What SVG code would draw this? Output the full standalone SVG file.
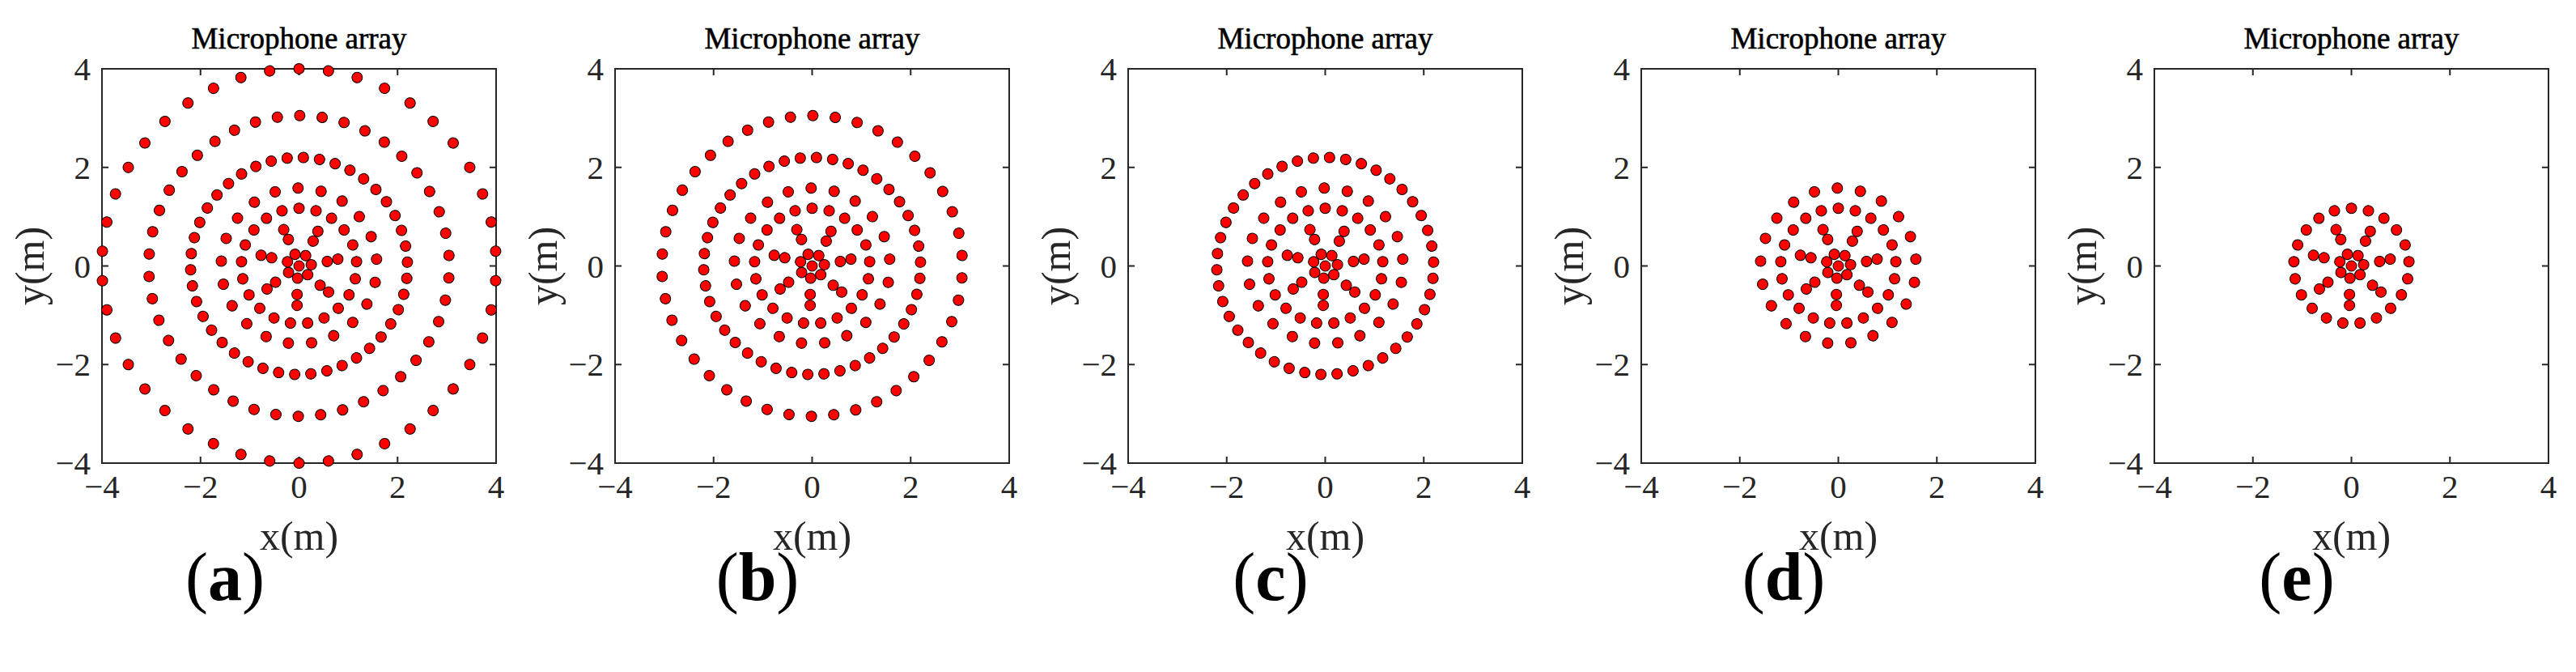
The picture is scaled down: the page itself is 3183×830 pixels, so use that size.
<svg xmlns="http://www.w3.org/2000/svg" xmlns:xlink="http://www.w3.org/1999/xlink" width="3183" height="830" viewBox="0 0 3183 830">
<style>
.d{fill:#f00;stroke:#000;stroke-width:1}
.box{fill:none;stroke:#262626;stroke-width:2}
.tk{stroke:#262626;stroke-width:2}
text{font-family:"Liberation Serif","Times New Roman",serif;fill:#262626}
.t{font-size:37px;text-anchor:middle;fill:#000;stroke:#000;stroke-width:0.6}
.n{font-size:41px}
.ny{text-anchor:end}
.nx{text-anchor:middle}
.al{font-size:50px;text-anchor:middle}
.lab{font-size:84px;text-anchor:middle;fill:#000}
</style>
<defs>
<g id="s7"><circle class="d" cx="15.2" cy="0" r="6.5" transform="rotate(-6)"/></g>
<g id="sp"><circle class="d" cx="35.3" cy="0" r="6.5" transform="rotate(-9)"/><circle class="d" cx="48.7" cy="0" r="6.5" transform="rotate(-10)"/></g>
<g id="s21a"><circle class="d" cx="71.3" cy="0" r="6.5" transform="rotate(-4.3)"/><circle class="d" cx="71.3" cy="0" r="6.5" transform="rotate(-21.44)"/><circle class="d" cx="71.3" cy="0" r="6.5" transform="rotate(-38.58)"/></g>
<g id="s21b"><circle class="d" cx="96.2" cy="0" r="6.5" transform="rotate(-5)"/><circle class="d" cx="96.2" cy="0" r="6.5" transform="rotate(-22.14)"/><circle class="d" cx="96.2" cy="0" r="6.5" transform="rotate(-39.29)"/></g>
<g id="s42a"><circle class="d" cx="134" cy="0" r="6.5" transform="rotate(-2)"/><circle class="d" cx="134" cy="0" r="6.5" transform="rotate(-10.57)"/><circle class="d" cx="134" cy="0" r="6.5" transform="rotate(-19.14)"/><circle class="d" cx="134" cy="0" r="6.5" transform="rotate(-27.71)"/><circle class="d" cx="134" cy="0" r="6.5" transform="rotate(-36.29)"/><circle class="d" cx="134" cy="0" r="6.5" transform="rotate(-44.86)"/></g>
<g id="s42b"><circle class="d" cx="185.7" cy="0" r="6.5" transform="rotate(-4)"/><circle class="d" cx="185.7" cy="0" r="6.5" transform="rotate(-12.57)"/><circle class="d" cx="185.7" cy="0" r="6.5" transform="rotate(-21.14)"/><circle class="d" cx="185.7" cy="0" r="6.5" transform="rotate(-29.71)"/><circle class="d" cx="185.7" cy="0" r="6.5" transform="rotate(-38.29)"/><circle class="d" cx="185.7" cy="0" r="6.5" transform="rotate(-46.86)"/></g>
<g id="s42c"><circle class="d" cx="243.6" cy="0" r="6.5" transform="rotate(-4.29)"/><circle class="d" cx="243.6" cy="0" r="6.5" transform="rotate(-12.86)"/><circle class="d" cx="243.6" cy="0" r="6.5" transform="rotate(-21.43)"/><circle class="d" cx="243.6" cy="0" r="6.5" transform="rotate(-30)"/><circle class="d" cx="243.6" cy="0" r="6.5" transform="rotate(-38.57)"/><circle class="d" cx="243.6" cy="0" r="6.5" transform="rotate(-47.14)"/></g>
<g id="R7"><circle class="d" cx="0" cy="0" r="6.5"/><use href="#s7"/><use href="#s7" transform="rotate(51.4286)"/><use href="#s7" transform="rotate(102.857)"/><use href="#s7" transform="rotate(154.286)"/><use href="#s7" transform="rotate(205.714)"/><use href="#s7" transform="rotate(257.143)"/><use href="#s7" transform="rotate(308.571)"/></g>
<g id="RP"><use href="#sp"/><use href="#sp" transform="rotate(51.4286)"/><use href="#sp" transform="rotate(102.857)"/><use href="#sp" transform="rotate(154.286)"/><use href="#sp" transform="rotate(205.714)"/><use href="#sp" transform="rotate(257.143)"/><use href="#sp" transform="rotate(308.571)"/></g>
<g id="RA"><use href="#s21a"/><use href="#s21a" transform="rotate(51.4286)"/><use href="#s21a" transform="rotate(102.857)"/><use href="#s21a" transform="rotate(154.286)"/><use href="#s21a" transform="rotate(205.714)"/><use href="#s21a" transform="rotate(257.143)"/><use href="#s21a" transform="rotate(308.571)"/></g>
<g id="RB"><use href="#s21b"/><use href="#s21b" transform="rotate(51.4286)"/><use href="#s21b" transform="rotate(102.857)"/><use href="#s21b" transform="rotate(154.286)"/><use href="#s21b" transform="rotate(205.714)"/><use href="#s21b" transform="rotate(257.143)"/><use href="#s21b" transform="rotate(308.571)"/></g>
<g id="RC"><use href="#s42a"/><use href="#s42a" transform="rotate(51.4286)"/><use href="#s42a" transform="rotate(102.857)"/><use href="#s42a" transform="rotate(154.286)"/><use href="#s42a" transform="rotate(205.714)"/><use href="#s42a" transform="rotate(257.143)"/><use href="#s42a" transform="rotate(308.571)"/></g>
<g id="RD"><use href="#s42b"/><use href="#s42b" transform="rotate(51.4286)"/><use href="#s42b" transform="rotate(102.857)"/><use href="#s42b" transform="rotate(154.286)"/><use href="#s42b" transform="rotate(205.714)"/><use href="#s42b" transform="rotate(257.143)"/><use href="#s42b" transform="rotate(308.571)"/></g>
<g id="RE"><use href="#s42c"/><use href="#s42c" transform="rotate(51.4286)"/><use href="#s42c" transform="rotate(102.857)"/><use href="#s42c" transform="rotate(154.286)"/><use href="#s42c" transform="rotate(205.714)"/><use href="#s42c" transform="rotate(257.143)"/><use href="#s42c" transform="rotate(308.571)"/></g>
<g id="axes">
<rect class="box" x="0" y="0" width="487" height="487"/>
<path class="tk" d="M0,487v-8M121.75,487v-8M243.5,487v-8M365.25,487v-8M487,487v-8M0,0v8M121.75,0v8M243.5,0v8M365.25,0v8M487,0v8M0,0h8M0,121.75h8M0,243.5h8M0,365.25h8M0,487h8M487,0h-8M487,121.75h-8M487,243.5h-8M487,365.25h-8M487,487h-8"/>
<text class="n ny" x="-14" y="14">4</text>
<text class="n ny" x="-14" y="135.75">2</text>
<text class="n ny" x="-14" y="257.5">0</text>
<text class="n ny" x="-14" y="379.25">−2</text>
<text class="n ny" x="-14" y="501">−4</text>
<text class="n nx" x="0" y="530">−4</text>
<text class="n nx" x="121.75" y="530">−2</text>
<text class="n nx" x="243.5" y="530">0</text>
<text class="n nx" x="365.25" y="530">2</text>
<text class="n nx" x="487" y="530">4</text>
<text class="t" x="243.5" y="-25">Microphone array</text>
<text class="al" x="243.5" y="594">x(m)</text>
<text class="al" transform="translate(-72,243.5) rotate(-90)">y(m)</text>
</g>
</defs>
<rect width="3183" height="830" fill="#fff"/>
<g id="panel-a" transform="translate(126,85)">
<use href="#axes"/>
<g transform="translate(243.5,243.5)"><use href="#R7"/><use href="#RP"/><use href="#RA"/><use href="#RB"/><use href="#RC"/><use href="#RD"/><use href="#RE"/></g>
<text class="lab" x="152" y="656">(<tspan font-weight="bold">a</tspan>)</text>
</g>
<g id="panel-b" transform="translate(760,85)">
<use href="#axes"/>
<g transform="translate(243.5,243.5)"><use href="#R7"/><use href="#RP"/><use href="#RA"/><use href="#RB"/><use href="#RC"/><use href="#RD"/></g>
<text class="lab" x="176" y="656">(<tspan font-weight="bold">b</tspan>)</text>
</g>
<g id="panel-c" transform="translate(1394,85)">
<use href="#axes"/>
<g transform="translate(243.5,243.5)"><use href="#R7"/><use href="#RP"/><use href="#RA"/><use href="#RB"/><use href="#RC"/></g>
<text class="lab" x="176" y="656">(<tspan font-weight="bold">c</tspan>)</text>
</g>
<g id="panel-d" transform="translate(2028,85)">
<use href="#axes"/>
<g transform="translate(243.5,243.5)"><use href="#R7"/><use href="#RP"/><use href="#RA"/><use href="#RB"/></g>
<text class="lab" x="176" y="656">(<tspan font-weight="bold">d</tspan>)</text>
</g>
<g id="panel-e" transform="translate(2662,85)">
<use href="#axes"/>
<g transform="translate(243.5,243.5)"><use href="#R7"/><use href="#RP"/><use href="#RA"/></g>
<text class="lab" x="176" y="656">(<tspan font-weight="bold">e</tspan>)</text>
</g>
</svg>
